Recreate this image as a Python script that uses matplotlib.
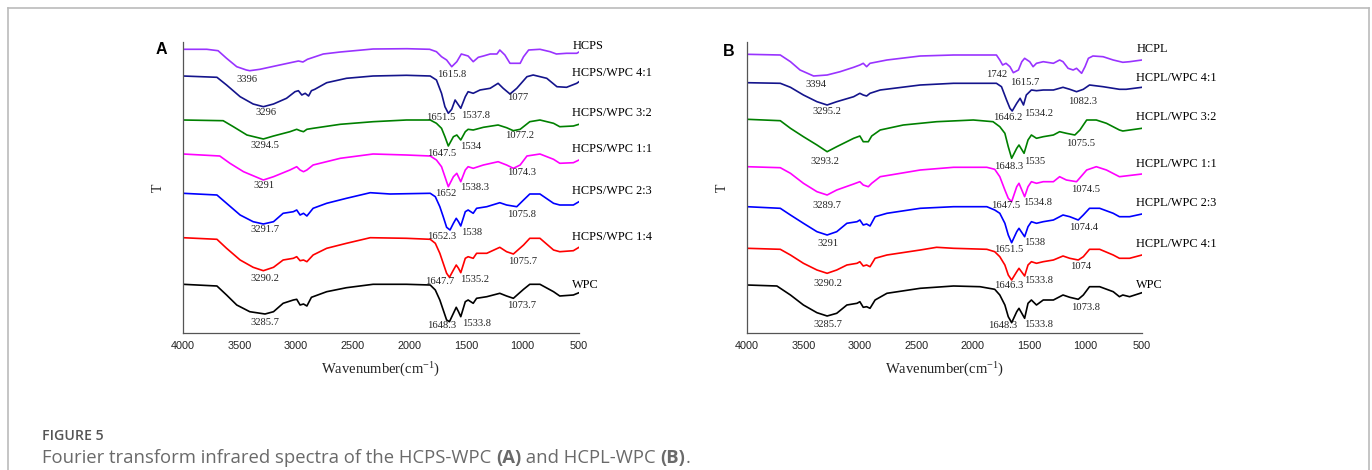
import matplotlib
matplotlib.use("Agg")
import matplotlib.pyplot as plt
from matplotlib.lines import Line2D

plt.rcParams['font.family'] = ['Liberation Serif', 'DejaVu Serif']
plt.rcParams['mathtext.fontset'] = 'custom'
plt.rcParams['mathtext.rm'] = 'Liberation Serif'
plt.rcParams['mathtext.it'] = 'Liberation Serif:italic'

# ---- panel A: HCPS / WPC blends (wavenumber, transmittance a.u.) ----
a_hcps_wn = [4000, 3790, 3690, 3615, 3525, 3440, 3410, 3320, 3145, 2980, 2940, 2900, 2760, 2610, 2320, 2020,
             1820, 1760, 1715, 1670, 1625, 1580, 1540, 1480, 1435, 1390, 1345, 1285, 1225, 1200, 1155, 1110,
             1065, 1020, 990, 945, 845, 755, 700, 610, 520, 500]
a_hcps_t = [283.7, 283.7, 282.3, 274.7, 266.3, 263.0, 262.3, 263.7, 268.0, 272.0, 271.0, 273.7, 279.0, 281.0,
            284.0, 284.3, 283.7, 281.3, 276.3, 273.0, 266.3, 271.3, 279.0, 277.0, 271.3, 275.7, 277.0, 279.0,
            279.0, 283.0, 278.0, 269.7, 269.7, 269.7, 276.3, 283.0, 283.7, 281.3, 279.0, 279.7, 279.7, 281.0]

a_41_wn = [4000, 3700, 3615, 3495, 3380, 3290, 3200, 3085, 3010, 2980, 2950, 2920, 2890, 2865, 2835, 2730, 2555,
           2320, 2025, 1815, 1760, 1715, 1685, 1655, 1625, 1595, 1565, 1545, 1505, 1480, 1435, 1375, 1285, 1215,
           1170, 1110, 1050, 960, 905, 785, 695, 610, 520, 500]
a_41_t = [257.0, 255.7, 248.0, 236.3, 229.0, 226.3, 229.0, 234.7, 241.3, 242.3, 238.0, 239.7, 237.0, 242.3, 243.7,
          250.3, 254.7, 257.0, 257.7, 257.0, 253.0, 239.7, 226.3, 219.7, 223.7, 233.0, 228.0, 224.7, 236.3, 241.3,
          239.7, 243.0, 244.7, 249.7, 244.7, 239.0, 244.7, 256.3, 258.0, 254.7, 246.3, 245.7, 249.7, 251.3]

a_32_wn = [4000, 3645, 3555, 3435, 3290, 3200, 3055, 2995, 2965, 2935, 2905, 2850, 2610, 2320, 2025, 1815, 1760,
           1715, 1685, 1655, 1610, 1580, 1545, 1505, 1480, 1435, 1345, 1215, 1140, 1080, 1020, 935, 845, 725, 670,
           550, 500]
a_32_t = [213.0, 212.3, 206.3, 198.0, 194.0, 197.0, 201.3, 203.7, 202.3, 201.3, 203.7, 204.7, 208.7, 211.3, 213.0,
          213.0, 209.7, 204.7, 196.3, 187.0, 196.3, 198.0, 193.0, 201.3, 203.7, 203.0, 205.7, 208.0, 205.3, 202.3,
          203.7, 211.3, 213.0, 209.7, 206.3, 207.0, 208.7]

a_11_wn = [4000, 3675, 3585, 3465, 3290, 3200, 3055, 2995, 2965, 2935, 2905, 2850, 2610, 2320, 2025, 1815, 1760,
           1715, 1685, 1655, 1610, 1580, 1545, 1505, 1480, 1435, 1345, 1215, 1140, 1080, 1020, 960, 845, 725, 670,
           550, 500]
a_11_t = [179.0, 177.0, 169.7, 161.3, 153.0, 156.3, 163.0, 166.3, 163.0, 161.3, 163.0, 168.0, 174.7, 179.0, 178.0,
          177.0, 173.0, 166.3, 156.3, 146.3, 156.3, 159.7, 151.3, 163.0, 166.3, 164.7, 168.0, 171.3, 168.0, 164.7,
          168.0, 177.0, 179.0, 173.7, 169.7, 170.3, 173.0]

a_23_wn = [4000, 3700, 3615, 3495, 3380, 3290, 3200, 3115, 3025, 2995, 2965, 2935, 2905, 2850, 2730, 2555, 2345,
           2170, 1815, 1770, 1730, 1700, 1670, 1640, 1610, 1585, 1565, 1545, 1505, 1480, 1435, 1405, 1315, 1200,
           1140, 1050, 990, 935, 845, 725, 670, 550, 500]
a_23_t = [139.7, 138.0, 129.7, 118.0, 111.3, 109.0, 111.3, 119.7, 121.3, 123.0, 118.0, 119.7, 117.0, 124.7, 129.7,
          134.7, 140.3, 139.0, 139.7, 136.3, 126.3, 116.3, 105.7, 103.0, 109.7, 114.7, 111.3, 107.0, 121.3, 123.0,
          119.7, 124.7, 126.3, 130.3, 128.0, 126.3, 133.0, 139.0, 139.0, 129.7, 128.0, 128.0, 131.3]

a_14_wn = [4000, 3700, 3615, 3495, 3380, 3290, 3200, 3115, 3025, 2995, 2965, 2935, 2905, 2850, 2730, 2555, 2345,
           2025, 1815, 1770, 1730, 1700, 1670, 1645, 1610, 1585, 1565, 1545, 1505, 1480, 1435, 1405, 1315, 1200,
           1140, 1080, 990, 935, 845, 725, 670, 550, 500]
a_14_t = [95.3, 93.7, 84.7, 73.0, 65.7, 62.3, 65.7, 73.0, 74.7, 76.3, 72.3, 73.0, 71.3, 78.0, 84.7, 89.7, 95.3,
          94.7, 93.7, 89.7, 79.7, 69.7, 59.7, 55.7, 63.0, 68.0, 64.7, 60.3, 74.7, 76.3, 74.7, 79.7, 79.7, 85.7,
          81.3, 79.0, 88.0, 94.7, 94.7, 83.0, 81.3, 82.3, 85.7]

a_wpc_wn = [4000, 3700, 3615, 3525, 3410, 3275, 3200, 3115, 3025, 2995, 2965, 2935, 2905, 2865, 2730, 2555, 2320,
            2025, 1815, 1770, 1730, 1700, 1670, 1645, 1610, 1585, 1565, 1545, 1505, 1480, 1435, 1405, 1315, 1200,
            1140, 1080, 990, 935, 845, 725, 670, 550, 500]
a_wpc_t = [48.7, 47.0, 38.0, 28.0, 21.3, 19.0, 21.3, 29.7, 33.0, 33.7, 28.0, 29.0, 27.0, 35.7, 41.3, 45.3, 48.7,
           48.7, 48.0, 43.0, 33.0, 23.0, 13.0, 11.3, 19.7, 25.7, 21.3, 16.3, 31.3, 33.0, 29.7, 34.7, 36.3, 39.7,
           37.0, 34.7, 43.7, 48.7, 48.7, 41.3, 37.0, 38.0, 40.3]

a_names = ["HCPS", "HCPS/WPC 4:1", "HCPS/WPC 3:2", "HCPS/WPC 1:1", "HCPS/WPC 2:3", "HCPS/WPC 1:4", "WPC"]
a_peaks = [["3396", "1615.8"],
           ["3296", "1651.5", "1537.8", "1077"],
           ["3294.5", "1647.5", "1534", "1077.2"],
           ["3291", "1652", "1538.3", "1074.3"],
           ["3291.7", "1652.3", "1538", "1075.8"],
           ["3290.2", "1647.7", "1535.2", "1075.7"],
           ["3285.7", "1648.3", "1533.8", "1073.7"]]

# ---- panel B: HCPL / WPC blends ----
b_hcpl_wn = [4000, 3705, 3615, 3530, 3410, 3290, 3175, 3055, 3000, 2970, 2940, 2910, 2760, 2465, 2170, 1790,
             1760, 1735, 1705, 1670, 1640, 1595, 1565, 1540, 1495, 1465, 1435, 1375, 1285, 1230, 1200, 1155,
             1110, 1080, 1035, 1005, 975, 935, 845, 755, 670, 610, 500]
b_hcpl_t = [278.7, 278.0, 271.3, 263.0, 257.0, 258.0, 261.3, 265.7, 268.0, 269.7, 266.3, 269.7, 273.0, 277.0,
            278.0, 278.0, 273.0, 268.0, 269.7, 266.3, 260.3, 263.0, 271.3, 274.7, 271.3, 266.3, 269.7, 271.3,
            269.7, 273.0, 271.3, 264.7, 263.0, 264.7, 259.7, 266.3, 274.7, 277.0, 276.3, 273.0, 270.7, 271.3, 273.0]

b_41_wn = [4000, 3705, 3615, 3500, 3380, 3290, 3205, 3055, 3000, 2970, 2940, 2910, 2820, 2465, 2170, 1790, 1745,
           1700, 1670, 1650, 1610, 1580, 1550, 1525, 1480, 1435, 1375, 1285, 1200, 1140, 1080, 1020, 965, 845, 700,
           640, 500]
b_41_t = [250.3, 249.7, 245.7, 238.0, 231.3, 228.0, 231.3, 236.3, 239.7, 238.0, 237.0, 239.7, 243.0, 248.0, 249.7,
          249.7, 246.3, 233.0, 224.7, 222.0, 229.7, 234.7, 228.0, 238.0, 243.0, 242.3, 243.0, 243.0, 245.7, 243.7,
          241.3, 243.7, 248.0, 246.3, 243.7, 243.7, 245.7]

b_32_wn = [4000, 3705, 3615, 3500, 3380, 3290, 3205, 3055, 3000, 2970, 2925, 2895, 2820, 2615, 2320, 1995, 1820,
           1760, 1715, 1685, 1655, 1610, 1590, 1545, 1510, 1480, 1435, 1375, 1285, 1230, 1170, 1095, 1050, 990, 905,
           815, 700, 670, 500]
b_32_t = [213.7, 212.3, 204.7, 196.3, 188.0, 181.3, 186.3, 194.7, 197.0, 191.3, 191.3, 197.0, 203.0, 208.0, 211.3,
          213.0, 211.3, 206.3, 199.7, 186.3, 174.7, 184.7, 188.0, 179.7, 193.0, 198.0, 194.7, 196.3, 198.0, 201.3,
          199.7, 198.0, 203.0, 213.0, 213.0, 209.7, 203.0, 202.0, 204.7]

b_11_wn = [4000, 3705, 3615, 3500, 3380, 3290, 3205, 3055, 3000, 2970, 2925, 2895, 2820, 2465, 2170, 1875, 1805,
           1760, 1715, 1685, 1655, 1610, 1590, 1540, 1510, 1480, 1435, 1375, 1285, 1230, 1170, 1080, 990, 905, 815,
           700, 500]
b_11_t = [166.3, 165.3, 159.7, 149.7, 141.3, 138.0, 143.0, 149.0, 151.3, 148.0, 146.3, 149.7, 156.3, 163.0, 165.7,
          165.7, 163.7, 156.3, 143.0, 134.7, 131.3, 146.3, 149.7, 136.3, 146.3, 151.3, 149.7, 151.3, 151.3, 156.3,
          153.0, 151.3, 163.0, 166.3, 163.0, 156.3, 159.0]

b_23_wn = [4000, 3705, 3615, 3500, 3380, 3290, 3205, 3115, 3025, 3000, 2970, 2940, 2910, 2865, 2760, 2465, 2170,
           1875, 1805, 1760, 1715, 1685, 1655, 1610, 1590, 1540, 1510, 1480, 1435, 1375, 1285, 1200, 1140, 1065,
           1020, 965, 875, 755, 700, 610, 500]
b_23_t = [126.3, 124.7, 118.0, 109.7, 101.3, 98.0, 101.3, 109.7, 111.3, 113.0, 108.0, 109.0, 107.0, 116.3, 119.7,
          124.7, 126.3, 126.3, 123.0, 119.7, 109.7, 98.0, 90.3, 101.3, 104.7, 96.3, 106.3, 111.3, 109.7, 111.3,
          113.0, 118.0, 116.3, 113.0, 118.0, 124.7, 124.7, 119.7, 116.3, 116.3, 119.0]

b_41r_wn = [4000, 3705, 3615, 3500, 3380, 3290, 3205, 3115, 3025, 3000, 2970, 2940, 2910, 2865, 2760, 2465, 2320,
            2170, 1875, 1805, 1760, 1715, 1685, 1655, 1610, 1590, 1540, 1510, 1480, 1435, 1375, 1285, 1200, 1140,
            1065, 1020, 965, 875, 755, 700, 610, 500]
b_41r_t = [84.7, 83.7, 78.0, 69.7, 63.0, 59.7, 63.0, 68.0, 69.7, 71.3, 67.0, 68.0, 66.3, 74.7, 78.0, 83.0, 85.7,
           84.7, 83.7, 81.3, 76.3, 68.0, 58.0, 53.0, 61.3, 64.7, 57.0, 68.0, 71.3, 69.7, 71.3, 73.0, 77.0, 74.7,
           73.0, 76.3, 83.7, 83.7, 78.0, 74.7, 74.7, 78.0]

b_wpc_wn = [4000, 3735, 3615, 3500, 3380, 3290, 3205, 3115, 3025, 3000, 2970, 2940, 2910, 2865, 2760, 2465, 2170,
            1935, 1805, 1760, 1715, 1685, 1655, 1610, 1590, 1540, 1510, 1480, 1435, 1375, 1285, 1200, 1140, 1065,
            1020, 965, 875, 755, 700, 670, 610, 500]
b_wpc_t = [48.0, 47.0, 38.0, 28.0, 20.3, 17.0, 19.7, 28.0, 29.7, 31.3, 25.7, 26.3, 24.7, 33.0, 39.7, 44.7, 47.0,
           46.3, 43.7, 38.0, 28.0, 16.3, 10.3, 21.3, 24.7, 14.7, 29.7, 33.0, 28.0, 33.0, 33.0, 38.0, 35.7, 33.7,
           38.0, 46.3, 46.3, 41.3, 36.3, 38.0, 36.3, 40.3]

b_names = ["HCPL", "HCPL/WPC 4:1", "HCPL/WPC 3:2", "HCPL/WPC 1:1", "HCPL/WPC 2:3", "HCPL/WPC 4:1", "WPC"]
b_peaks = [["3394", "1742", "1615.7"],
           ["3295.2", "1646.2", "1534.2", "1082.3"],
           ["3293.2", "1648.3", "1535", "1075.5"],
           ["3289.7", "1647.5", "1534.8", "1074.5"],
           ["3291", "1651.5", "1538", "1074.4"],
           ["3290.2", "1646.3", "1533.8", "1074"],
           ["3285.7", "1648.3", "1533.8", "1073.8"]]

xticks = [4000, 3500, 3000, 2500, 2000, 1500, 1000, 500]

# ---- layout (text placement, in axis units) ----
a_name_y = [287, 260.3, 220, 184, 142, 96.3, 48]
b_name_y = [284, 255.3, 215.7, 168.7, 129.7, 88.7, 48]
a_peak_pos = [[(3437, 253.7), (1625, 258.7)],
              [(3269, 220.3), (1720, 215.7), (1413, 218), (1042, 235.3)],
              [(3275, 187), (1714, 179.7), (1454, 186.3), (1027, 198)],
              [(3284, 147), (1675, 139), (1419, 145.7), (1006, 160.3)],
              [(3275, 103), (1714, 96.3), (1448, 100.3), (1012, 118.7)],
              [(3275, 54.7), (1734, 51.3), (1419, 53.7), (998, 72)],
              [(3275, 10.3), (1714, 7), (1410, 9.7), (1012, 27.3)]]
b_peak_pos = [[(3390, 248.7), (1788, 258.7), (1543, 250.3)],
              [(3292, 222), (1694, 215.3), (1414, 219.7), (1027, 232)],
              [(3307, 171.3), (1685, 166.3), (1449, 171.3), (1042, 189.7)],
              [(3292, 128), (1709, 127.3), (1428, 130.7), (1001, 143.7)],
              [(3286, 89), (1685, 83.7), (1449, 90.3), (1022, 105.3)],
              [(3286, 49), (1685, 48), (1414, 52.3), (1045, 66.3)],
              [(3286, 8.7), (1735, 7), (1420, 8.7), (1001, 25.3)]]

colors = ['#9933ff', '#14148c', '#008000', '#ff00ff', '#0000ff', '#ff0000', '#000000']

W, H = 1372, 470
fig = plt.figure(figsize=(W / 100, H / 100), dpi=100)

a_curves = [(a_hcps_wn, a_hcps_t), (a_41_wn, a_41_t), (a_32_wn, a_32_t), (a_11_wn, a_11_t),
            (a_23_wn, a_23_t), (a_14_wn, a_14_t), (a_wpc_wn, a_wpc_t)]
b_curves = [(b_hcpl_wn, b_hcpl_t), (b_41_wn, b_41_t), (b_32_wn, b_32_t), (b_11_wn, b_11_t),
            (b_23_wn, b_23_t), (b_41r_wn, b_41r_t), (b_wpc_wn, b_wpc_t)]


def draw_panel(left, right, curves, names, name_x, name_y, peaks, peak_pos):
    ax = fig.add_axes([left / W, (H - 333) / H, (right - left) / W, (333 - 42) / H])
    for (wn, t), c in zip(curves, colors):
        ax.plot(wn, t, color=c, lw=1.2, solid_joinstyle='round')
    for name, y in zip(names, name_y):
        ax.text(name_x, y, name, fontsize=8.8, ha='left', va='center', clip_on=False)
    for labels, pos in zip(peaks, peak_pos):
        for lab, (x, y) in zip(labels, pos):
            ax.text(x, y, lab, fontsize=7.6, ha='center', va='center', color='#222222')
    ax.set_xlim(4000, 500)
    ax.set_ylim(0, 291)
    ax.set_xticks(xticks)
    ax.set_yticks([])
    ax.tick_params(axis='x', length=0, pad=6, labelsize=7.8, colors='#222222')
    for lbl in ax.get_xticklabels():
        lbl.set_fontfamily('Liberation Sans')
    for s in ['top', 'right']:
        ax.spines[s].set_visible(False)
    for s in ['left', 'bottom']:
        ax.spines[s].set_color('#555555')
        ax.spines[s].set_linewidth(0.9)
    ax.set_xlabel('Wavenumber(cm$^{-1}$)', fontsize=10.5, labelpad=7, color='#222222')
    ax.set_ylabel('T', fontsize=10, labelpad=13, color='#222222')
    return ax


draw_panel(183, 579, a_curves, a_names, 560, a_name_y, a_peaks, a_peak_pos)
draw_panel(747, 1142, b_curves, b_names, 550, b_name_y, b_peaks, b_peak_pos)

fig.text(161 / W, 1 - 50 / H, 'A', family='Liberation Sans', weight='bold', fontsize=11.5,
         ha='center', va='center')
fig.text(729 / W, 1 - 51 / H, 'B', family='Liberation Sans', weight='bold', fontsize=11.5,
         ha='center', va='center')

# frame around the figure (open at the bottom)
border = '#bbbbbb'
fig.add_artist(Line2D([8 / W, 8 / W], [0, 1 - 8 / H], color=border, lw=1.2))
fig.add_artist(Line2D([8 / W, 1369 / W], [1 - 8 / H, 1 - 8 / H], color=border, lw=1.2))
fig.add_artist(Line2D([1369 / W, 1369 / W], [0, 1 - 8 / H], color=border, lw=1.2))

# caption
fig.text(42 / W, 1 - 436 / H, 'FIGURE 5', family='Open Sans', weight='semibold', fontsize=10.2,
         color='#555555', va='center')
renderer = fig.canvas.get_renderer()
x = 42 / W
pieces = [("Fourier transform infrared spectra of the HCPS-WPC ", 'normal'), ("(A)", 'bold'),
          (" and HCPL-WPC ", 'normal'), ("(B)", 'bold'), (".", 'normal')]
for txt, wt in pieces:
    t = fig.text(x, 1 - 458 / H, txt, family='Open Sans', weight=wt, fontsize=13.3,
                 color='#6a6a6a', va='center')
    bb = t.get_window_extent(renderer)
    x += bb.width / W

fig.savefig('out.png', dpi=100)
